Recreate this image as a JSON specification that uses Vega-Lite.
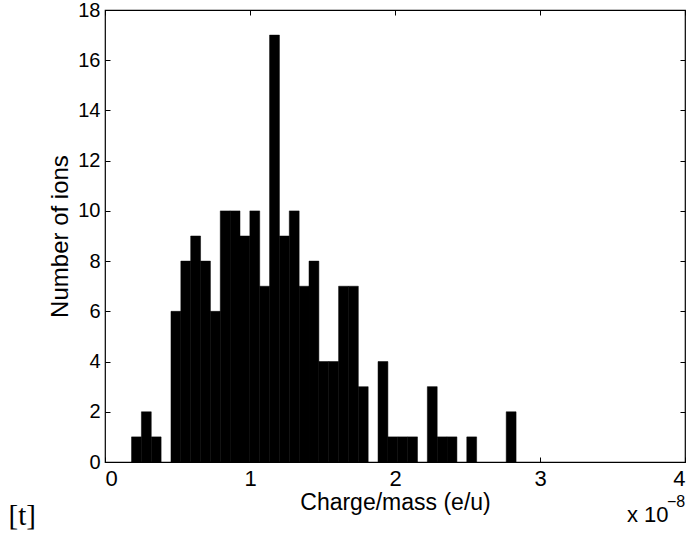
{
  "$schema": "https://vega.github.io/schema/vega-lite/v6.json",
  "width": 580,
  "height": 452,
  "autosize": {"type": "none"},
  "padding": {"left": 105, "top": 10, "right": 6, "bottom": 74},
  "background": "white",
  "config": {
    "view": {"stroke": "black", "strokeWidth": 1.2},
    "font": "Liberation Sans",
    "axis": {
      "grid": false,
      "domain": false,
      "tickColor": "black",
      "tickSize": -5,
      "tickWidth": 1,
      "labelColor": "black",
      "labelFontSize": 22,
      "labelFont": "Liberation Sans",
      "titleColor": "black",
      "titleFontSize": 23,
      "titleFont": "Liberation Sans",
      "titleFontWeight": "normal"
    }
  },
  "data": {
    "values": [
      {"x0": 0.183, "x1": 0.251, "count": 1},
      {"x0": 0.251, "x1": 0.319, "count": 2},
      {"x0": 0.319, "x1": 0.387, "count": 1},
      {"x0": 0.455, "x1": 0.523, "count": 6},
      {"x0": 0.523, "x1": 0.591, "count": 8},
      {"x0": 0.591, "x1": 0.659, "count": 9},
      {"x0": 0.659, "x1": 0.727, "count": 8},
      {"x0": 0.727, "x1": 0.795, "count": 6},
      {"x0": 0.795, "x1": 0.863, "count": 10},
      {"x0": 0.863, "x1": 0.931, "count": 10},
      {"x0": 0.931, "x1": 0.999, "count": 9},
      {"x0": 0.999, "x1": 1.067, "count": 10},
      {"x0": 1.067, "x1": 1.135, "count": 7},
      {"x0": 1.135, "x1": 1.203, "count": 17},
      {"x0": 1.203, "x1": 1.271, "count": 9},
      {"x0": 1.271, "x1": 1.339, "count": 10},
      {"x0": 1.339, "x1": 1.407, "count": 7},
      {"x0": 1.407, "x1": 1.475, "count": 8},
      {"x0": 1.475, "x1": 1.543, "count": 4},
      {"x0": 1.543, "x1": 1.611, "count": 4},
      {"x0": 1.611, "x1": 1.679, "count": 7},
      {"x0": 1.679, "x1": 1.747, "count": 7},
      {"x0": 1.747, "x1": 1.815, "count": 3},
      {"x0": 1.883, "x1": 1.951, "count": 4},
      {"x0": 1.951, "x1": 2.019, "count": 1},
      {"x0": 2.019, "x1": 2.087, "count": 1},
      {"x0": 2.087, "x1": 2.155, "count": 1},
      {"x0": 2.223, "x1": 2.291, "count": 3},
      {"x0": 2.291, "x1": 2.359, "count": 1},
      {"x0": 2.359, "x1": 2.427, "count": 1},
      {"x0": 2.495, "x1": 2.563, "count": 1},
      {"x0": 2.767, "x1": 2.835, "count": 2}
    ]
  },
  "layer": [
    {
      "mark": {"type": "rect", "color": "black", "stroke": "black", "strokeWidth": 0.5},
      "encoding": {
        "x": {
          "field": "x0", "type": "quantitative",
          "scale": {"domain": [0, 4], "nice": false, "zero": false},
          "axis": {"orient": "bottom", "values": [0, 1, 2, 3, 4], "format": "d", "title": "Charge/mass (e/u)", "labelPadding": 11, "titlePadding": 2}
        },
        "x2": {"field": "x1"},
        "y": {
          "field": "count", "type": "quantitative",
          "scale": {"domain": [0, 18], "nice": false},
          "axis": {"orient": "left", "values": [0, 2, 4, 6, 8, 10, 12, 14, 16, 18], "title": "Number of ions", "labelPadding": 10, "titlePadding": 5, "titleFontSize": 24, "labelFontSize": 20}
        },
        "y2": {"datum": 0}
      }
    },
    {
      "mark": {"type": "point", "opacity": 0},
      "encoding": {
        "x": {
          "field": "x0", "type": "quantitative",
          "axis": {"orient": "top", "values": [0, 1, 2, 3, 4], "labels": false, "title": null}
        },
        "y": {
          "field": "count", "type": "quantitative",
          "axis": {"orient": "right", "values": [0, 2, 4, 6, 8, 10, 12, 14, 16, 18], "labels": false, "title": null}
        }
      }
    },
    {
      "data": {"values": [{}]},
      "mark": {"type": "text", "font": "Liberation Serif", "fontSize": 29, "color": "black", "align": "left", "baseline": "middle"},
      "encoding": {
        "x": {"datum": -0.665, "type": "quantitative", "axis": null},
        "y": {"datum": -2.15, "type": "quantitative", "axis": null},
        "text": {"value": "[t]"}
      }
    },
    {
      "data": {"values": [{}]},
      "mark": {"type": "text", "font": "Liberation Sans", "fontSize": 22, "color": "black", "align": "left", "baseline": "middle"},
      "encoding": {
        "x": {"datum": 3.6, "type": "quantitative", "axis": null},
        "y": {"datum": -2.1, "type": "quantitative", "axis": null},
        "text": {"value": "x 10"}
      }
    },
    {
      "data": {"values": [{}]},
      "mark": {"type": "text", "font": "Liberation Sans", "fontSize": 16, "color": "black", "align": "left", "baseline": "middle"},
      "encoding": {
        "x": {"datum": 3.876, "type": "quantitative", "axis": null},
        "y": {"datum": -1.6, "type": "quantitative", "axis": null},
        "text": {"value": "−8"}
      }
    }
  ],
  "resolve": {"axis": {"x": "independent", "y": "independent"}}
}
